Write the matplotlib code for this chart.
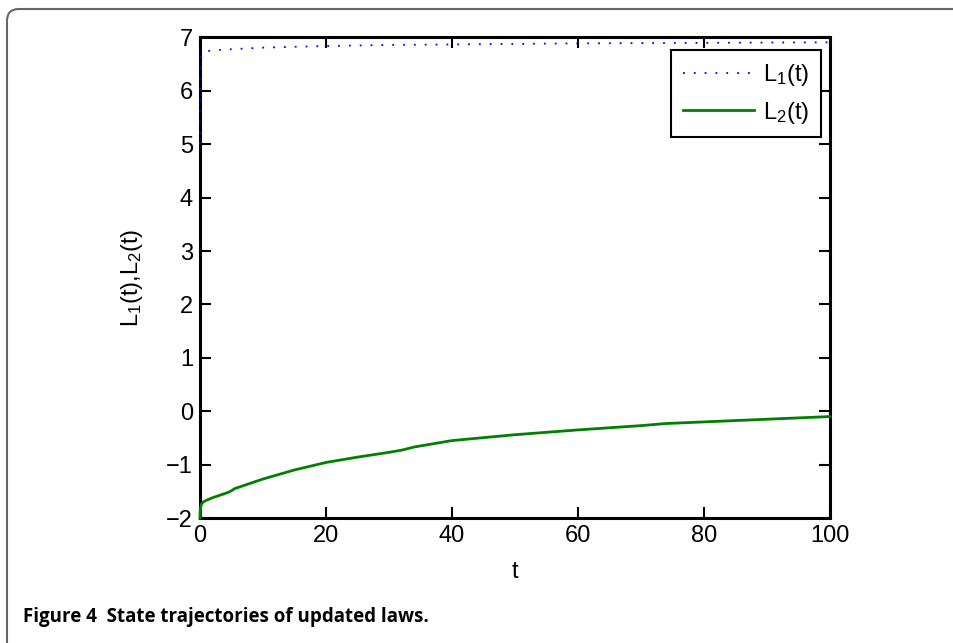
import matplotlib
matplotlib.use("Agg")
import matplotlib.pyplot as plt
from matplotlib.patches import FancyBboxPatch
from matplotlib.transforms import IdentityTransform

plt.rcParams['font.family'] = ['Liberation Sans', 'DejaVu Sans']
plt.rcParams['mathtext.default'] = 'regular'

# values
t1 = [0, 0.02, 0.05, 0.1, 0.3, 0.6, 1, 2, 5, 10, 20, 30, 40, 60, 80, 100]
L1 = [5, 5.8, 6.3, 6.6, 6.68, 6.72, 6.74, 6.76, 6.78, 6.81, 6.84, 6.86, 6.87, 6.89, 6.90, 6.91]

t2 = [0, 0.05, 0.2, 0.5, 1, 2, 3, 4.5, 5, 5.5, 7, 10, 15, 20, 25, 30, 32, 34, 36,
      40, 50, 60, 70, 74, 80, 90, 100]
L2 = [-2, -1.85, -1.75, -1.7, -1.67, -1.62, -1.58, -1.52, -1.49, -1.45, -1.39, -1.27,
      -1.1, -0.96, -0.86, -0.77, -0.73, -0.67, -0.63, -0.55, -0.44, -0.35, -0.27,
      -0.23, -0.2, -0.15, -0.1]

xticks = [0, 20, 40, 60, 80, 100]
yticks = [-2, -1, 0, 1, 2, 3, 4, 5, 6, 7]
ytick_labels = ['\u22122', '\u22121', '0', '1', '2', '3', '4', '5', '6', '7']

fig = plt.figure(figsize=(9.54, 6.43), dpi=100)
ax = fig.add_axes([0.2096, 0.1944, 0.6604, 0.7473])

ax.plot(t1, L1, color='blue', linestyle=(0, (1, 5)), linewidth=1.3, label='L$_1$(t)',
        zorder=3, clip_on=False)
ax.plot(t2, L2, color='#008000', linewidth=2.0, label='L$_2$(t)', zorder=3,
        clip_on=False)

ax.set_xlim(0, 100)
ax.set_ylim(-2, 7)
ax.set_xticks(xticks)
ax.set_yticks(yticks)
ax.set_yticklabels(ytick_labels)
ax.tick_params(direction='in', length=8, width=1.5, top=True, right=True,
               labelsize=17, pad=5)
for s in ax.spines.values():
    s.set_linewidth(2.2)

ax.set_xlabel('t', fontsize=17, labelpad=10)
ax.set_ylabel('L$_1$(t),L$_2$(t)', fontsize=17, labelpad=15)

leg = ax.legend(loc='upper right', fontsize=17, fancybox=False, framealpha=1,
                edgecolor='black', handlelength=3.0, handletextpad=0.4,
                borderpad=0.5, labelspacing=0.5, borderaxespad=0,
                bbox_to_anchor=(0.986, 0.974))
leg.get_frame().set_linewidth(1.5)

# rounded page border (open on right and bottom)
border = FancyBboxPatch((7, -30), 980, 664, boxstyle='round,pad=0,rounding_size=12',
                        transform=IdentityTransform(), fill=False,
                        edgecolor='#666666', linewidth=1.5)
fig.patches.append(border)

fig.text(23 / 954, 1 - 622 / 643, 'Figure 4  State trajectories of updated laws.',
         fontsize=13.5, fontweight='bold', family=['Open Sans', 'DejaVu Sans'],
         ha='left', va='baseline')

fig.savefig('out.png', dpi=100)
